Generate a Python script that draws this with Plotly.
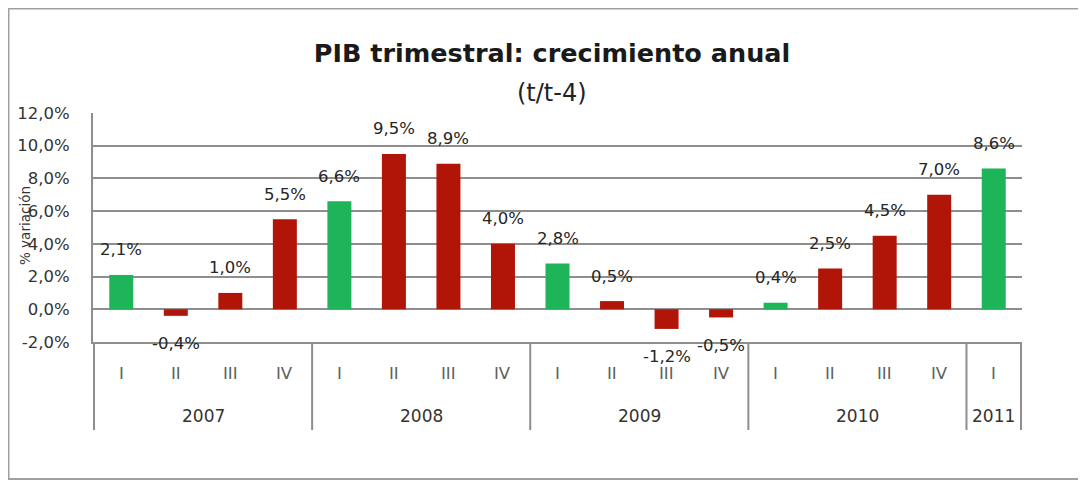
import plotly.graph_objects as go

# ---- data ----
years = ["2007"] * 4 + ["2008"] * 4 + ["2009"] * 4 + ["2010"] * 4 + ["2011"]
quarters = ["I", "II", "III", "IV"] * 4 + ["I"]
values = [2.1, -0.4, 1.0, 5.5, 6.6, 9.5, 8.9, 4.0, 2.8, 0.5, -1.2, -0.5, 0.4, 2.5, 4.5, 7.0, 8.6]
y_ticks = [-2, 0, 2, 4, 6, 8, 10, 12]
y_ticklabels = ["-2,0%", "0,0%", "2,0%", "4,0%", "6,0%", "8,0%", "10,0%", "12,0%"]

title = "PIB trimestral: crecimiento anual"
subtitle = "(t/t-4)"
y_title = "% variación"

# ---- style ----
GREEN = "#1db45a"
RED = "#b11508"
GRID = "#8e8e8e"
FONT = "DejaVu Sans"

# the page has an 8px body margin: work in screen pixels and shift
OFF = 8
W, H = 1086 - OFF, 481 - OFF
L, R, T, B = 93 - OFF, 1022 - OFF, 113 - OFF, 342 - OFF
PW, PH = R - L, B - T


def px_x(sx):
    return (sx - OFF - L) / PW


def px_y(sy):
    return (B - (sy - OFF)) / PH


keys = [f"{y} {q}" for y, q in zip(years, quarters)]
colors = [GREEN if q == "I" else RED for q in quarters]


def fmt(v):
    return f"{v:.1f}%".replace(".", ",")


fig = go.Figure()
fig.add_trace(go.Bar(x=keys, y=values, marker=dict(color=colors, line=dict(width=0)),
                     hoverinfo="skip"))

annotations = []
# value labels
for k, v in zip(keys, values):
    annotations.append(dict(x=k, y=v, xref="x", yref="y", text=fmt(v), showarrow=False,
                            xanchor="center", yanchor="middle",
                            yshift=25 if v >= 0 else -28,
                            font=dict(family=FONT, size=16.5, color="#262626")))
# quarter labels
for k, q in zip(keys, quarters):
    annotations.append(dict(x=k, y=px_y(373), xref="x", yref="paper", text=q, showarrow=False,
                            xanchor="center", yanchor="middle",
                            font=dict(family=FONT, size=16.5, color="#606060")))
# year labels and dividers
shapes = []
groups = []
for i, y in enumerate(years):
    if not groups or groups[-1][0] != y:
        groups.append([y, i, i])
    else:
        groups[-1][2] = i
for y, i0, i1 in groups:
    annotations.append(dict(x=(i0 + i1) / 2, y=px_y(416), xref="x", yref="paper", text=y,
                            showarrow=False, xanchor="center", yanchor="middle",
                            font=dict(family=FONT, size=17, color="#333333")))
bounds = [g[1] - 0.5 for g in groups] + [groups[-1][2] + 0.5]
for b in bounds:
    shapes.append(dict(type="line", xref="x", yref="paper", x0=b, x1=b, y0=0, y1=px_y(430),
                       line=dict(color=GRID, width=2)))
# frame
shapes.append(dict(type="rect", xref="paper", yref="paper", x0=px_x(OFF + 0.5), x1=px_x(1100),
                   y0=px_y(479), y1=px_y(OFF + 0.5), line=dict(color="#a0a0a0", width=2),
                   layer="below"))
# subtitle
annotations.append(dict(x=px_x(552), y=px_y(93), xref="paper", yref="paper", text=subtitle,
                        showarrow=False, xanchor="center", yanchor="middle",
                        font=dict(family=FONT, size=24, color="#222222")))
# y title
annotations.append(dict(x=px_x(25), y=px_y(226), xref="paper", yref="paper", text=y_title,
                        textangle=-90, showarrow=False, xanchor="center", yanchor="middle",
                        font=dict(family=FONT, size=13.5, color="#333333")))

fig.update_layout(
    width=W, height=H,
    margin=dict(l=L, r=W - R, t=T, b=H - B, autoexpand=False),
    paper_bgcolor="white", plot_bgcolor="white",
    showlegend=False,
    bargap=0.56,
    title=dict(text=f"<b>{title}</b>", x=(552 - OFF) / W, xanchor="center",
               y=1 - (53 - OFF) / H, yanchor="middle",
               font=dict(family=FONT, size=25.5, color="#1a1a1a")),
    xaxis=dict(type="category", showticklabels=False, showgrid=False, zeroline=False,
               showline=True, linecolor=GRID, linewidth=2, ticks=""),
    yaxis=dict(range=[-2, 12], tickvals=y_ticks, ticktext=y_ticklabels, showgrid=True,
               gridcolor=GRID, gridwidth=2, zeroline=True, zerolinecolor=GRID, zerolinewidth=2,
               showline=True, linecolor=GRID, linewidth=2, ticks="", ticklabelstandoff=18,
               tickfont=dict(family=FONT, size=16.5, color="#333333")),
    annotations=annotations,
    shapes=shapes,
)

fig.write_html("out.html")
